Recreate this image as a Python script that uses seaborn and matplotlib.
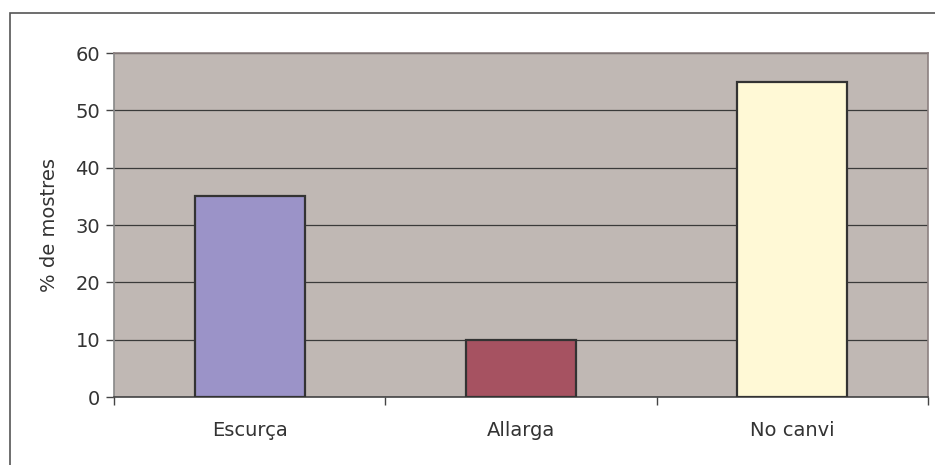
import pandas as pd
import seaborn as sns
from matplotlib import pyplot as plt
from matplotlib.patches import Rectangle

# dades
categories = ['Escurça', 'Allarga', 'No canvi']
valors = [35, 10, 55]
colors = ['#9B93C8', '#A65261', '#FFF9D6']
yticks = [0, 10, 20, 30, 40, 50, 60]

df = pd.DataFrame({'categoria': categories, 'pct': valors})

sns.set_style('white')
plt.rcParams['font.family'] = ['DejaVu Sans']

fig = plt.figure(figsize=(9.35, 4.65), dpi=100)
ax = fig.add_axes([0.1219, 0.1462, 0.8706, 0.7398])

# marc exterior del gràfic
fig.patches.append(Rectangle((10 / 935, -0.1), 1.2, 1 - 13 / 465 + 0.1,
                             transform=fig.transFigure, fill=False,
                             edgecolor='#555555', linewidth=1.2))

ax.set_facecolor('#C0B8B4')
sns.barplot(data=df, x='categoria', y='pct', hue='categoria', palette=colors,
            saturation=1, width=0.405, edgecolor='#333333', linewidth=1.6,
            legend=False, zorder=3, ax=ax)

ax.set_ylim(0, 60)
ax.set_xlim(-0.5, 2.5)
ax.set_yticks(yticks)
ax.yaxis.grid(True, color='#3A3A3A', linewidth=0.9, zorder=0)
ax.set_axisbelow(True)

for side in ['top', 'right']:
    ax.spines[side].set_color('#8C8080')
    ax.spines[side].set_linewidth(1.2)
ax.spines['left'].set_color('#888888')
ax.spines['bottom'].set_color('#444444')
ax.spines['left'].set_linewidth(1.2)
ax.spines['bottom'].set_linewidth(1.2)

ax.tick_params(axis='y', length=6, width=1, color='#444444', labelsize=14,
               labelcolor='#333333', pad=4, left=True)
ax.tick_params(axis='x', which='major', length=0, labelsize=14,
               labelcolor='#333333', pad=17)
ax.set_xticks([-0.5, 0.5, 1.5, 2.5], minor=True)
ax.tick_params(axis='x', which='minor', length=6, width=1, color='#444444',
               bottom=True)

ax.set_xlabel('')
ax.set_ylabel('% de mostres', fontsize=14, color='#333333', labelpad=12)

plt.savefig('out.png', dpi=100)
